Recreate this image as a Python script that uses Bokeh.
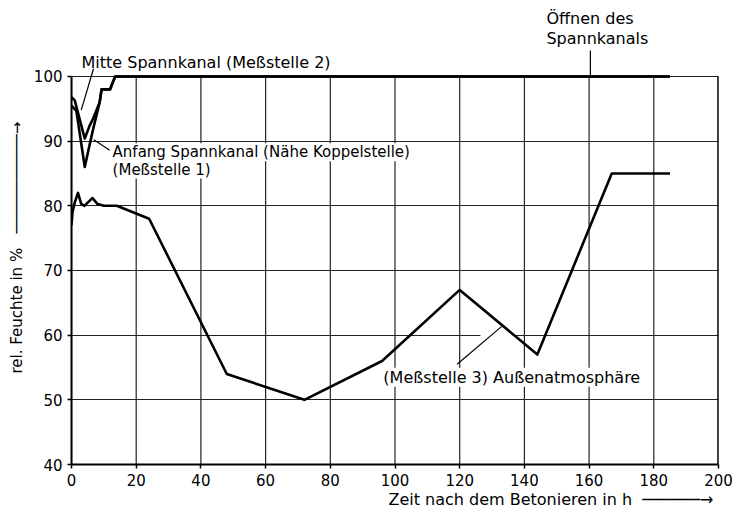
from bokeh.plotting import figure
from bokeh.models import Range1d, Label, Arrow, FixedTicker, Title
from bokeh.embed import file_html
from bokeh.resources import INLINE

# ---- data ----
x_mitte = [0, 1, 4.1, 5.6, 6.7, 8.7, 9.3, 11.9, 13.5, 185]
y_mitte = [96.8, 96.3, 90.4, 92.4, 93.5, 96, 98, 98, 100, 100]

x_anfang = [0, 1.5, 4.1, 5.1, 6.7, 8.7, 9.3, 11.9, 13.5, 185]
y_anfang = [95.5, 94.7, 86, 88.3, 91.9, 96, 98, 98, 100, 100]

x_aussen = [0, 0.3, 1, 2, 3, 4, 5, 6.5, 8, 10, 14, 24, 48, 72, 96, 120, 144, 167, 185]
y_aussen = [77, 79, 80.5, 82, 80.3, 80, 80.5, 81.2, 80.3, 80, 80, 78, 54, 50, 56, 67, 57, 85, 85]

x_ticks = [0, 20, 40, 60, 80, 100, 120, 140, 160, 180, 200]
y_ticks = [40, 50, 60, 70, 80, 90, 100]

X_MIN, X_MAX = 0, 200
Y_MIN, Y_MAX = 40, 100
Y_TOP = 111.75          # room above the 100 % line for the annotations

FONT = "DejaVu Sans"
FS = "16px"

p = figure(width=733, height=511, output_backend="svg", toolbar_location=None,
           title_location=None,
           x_range=Range1d(X_MIN, X_MAX), y_range=Range1d(Y_MIN, Y_TOP),
           min_border_left=71, min_border_right=15, min_border_top=0, min_border_bottom=47)
p.outline_line_color = None
p.background_fill_color = "white"
p.border_fill_color = "white"

for ax in (p.xaxis, p.yaxis):
    ax.axis_line_width = 2
    ax.axis_line_color = "black"
    ax.major_tick_out = 4
    ax.major_tick_in = 0
    ax.minor_tick_out = 0
    ax.minor_tick_in = 0
    ax.major_tick_line_width = 1.5
    ax.major_label_text_font = FONT
    ax.major_label_text_font_size = "15px"
    ax.major_label_text_color = "black"
    ax.major_label_standoff = 5
p.xaxis.ticker = FixedTicker(ticks=x_ticks)
p.yaxis.ticker = FixedTicker(ticks=y_ticks)
p.yaxis.bounds = (Y_MIN, Y_MAX)

p.xgrid.visible = False
p.ygrid.ticker = FixedTicker(ticks=y_ticks)
p.ygrid.grid_line_color = "#222222"
p.ygrid.grid_line_width = 1.2

# vertical grid lines and right border, limited to the 40..100 band
p.segment(x0=x_ticks, y0=[Y_MIN] * len(x_ticks), x1=x_ticks, y1=[Y_MAX] * len(x_ticks),
          line_color="#222222", line_width=1.2)
p.segment(x0=[X_MAX], y0=[Y_MIN], x1=[X_MAX], y1=[Y_MAX], line_color="black", line_width=2.5)

# gap in the 60 % grid line near the leader of label 3
p.line([126.4, 136.4], [60, 60], line_color="white", line_width=3)

lw = 2.6
p.line(x_anfang, y_anfang, line_color="black", line_width=lw, line_join="round")
p.line(x_mitte, y_mitte, line_color="black", line_width=lw, line_join="round")
p.line(x_aussen, y_aussen, line_color="black", line_width=lw, line_join="round")

# leader lines
leaders = [
    (6.8, 101.2, 3.0, 94.8),
    (6.9, 90.2, 11.8, 88.6),
    (119.2, 55.5, 133.1, 61.4),
    (160.4, 100, 160.4, 104.0),
]
for xs, ys, xe, ye in leaders:
    p.add_layout(Arrow(end=None, x_start=xs, y_start=ys, x_end=xe, y_end=ye,
                       line_color="black", line_width=1.2))

def lab(x, y, t, size=FS, **kw):
    p.add_layout(Label(x=x, y=y, text=t, text_font=FONT, text_font_size=size,
                       text_color="black", text_baseline="middle", **kw))

lab(3.1, 102.2, "Mitte Spannkanal (Meßstelle 2)")
lab(12.7, 88.3, "Anfang Spannkanal (Nähe Koppelstelle)", size="15px", background_fill_color="white")
lab(12.7, 85.6, "(Meßstelle 1)", size="15px", background_fill_color="white")
lab(96.4, 53.5, "(Meßstelle 3) Außenatmosphäre", background_fill_color="white")
lab(146.8, 108.9, "Öffnen des")
lab(146.8, 105.8, "Spannkanals")

# axis titles with arrows (as side-panel titles)
NB = "\u00a0"
x_title = Title(text="Zeit nach dem Betonieren in h" + NB * 2 + "\u2500" * 6 + "\u2192",
                align="right", offset=5, standoff=2, vertical_align="top",
                text_font=FONT, text_font_size="16px", text_font_style="normal",
                text_color="black")
p.add_layout(x_title, "below")
y_title = Title(text="rel. Feuchte in %" + NB * 3 + "\u2500" * 11 + "\u2192",
                align="left", offset=91, standoff=10,
                text_font=FONT, text_font_size="15px", text_font_style="normal",
                text_color="black")
p.add_layout(y_title, "left")

open("out.html", "w").write(file_html(p, INLINE))
